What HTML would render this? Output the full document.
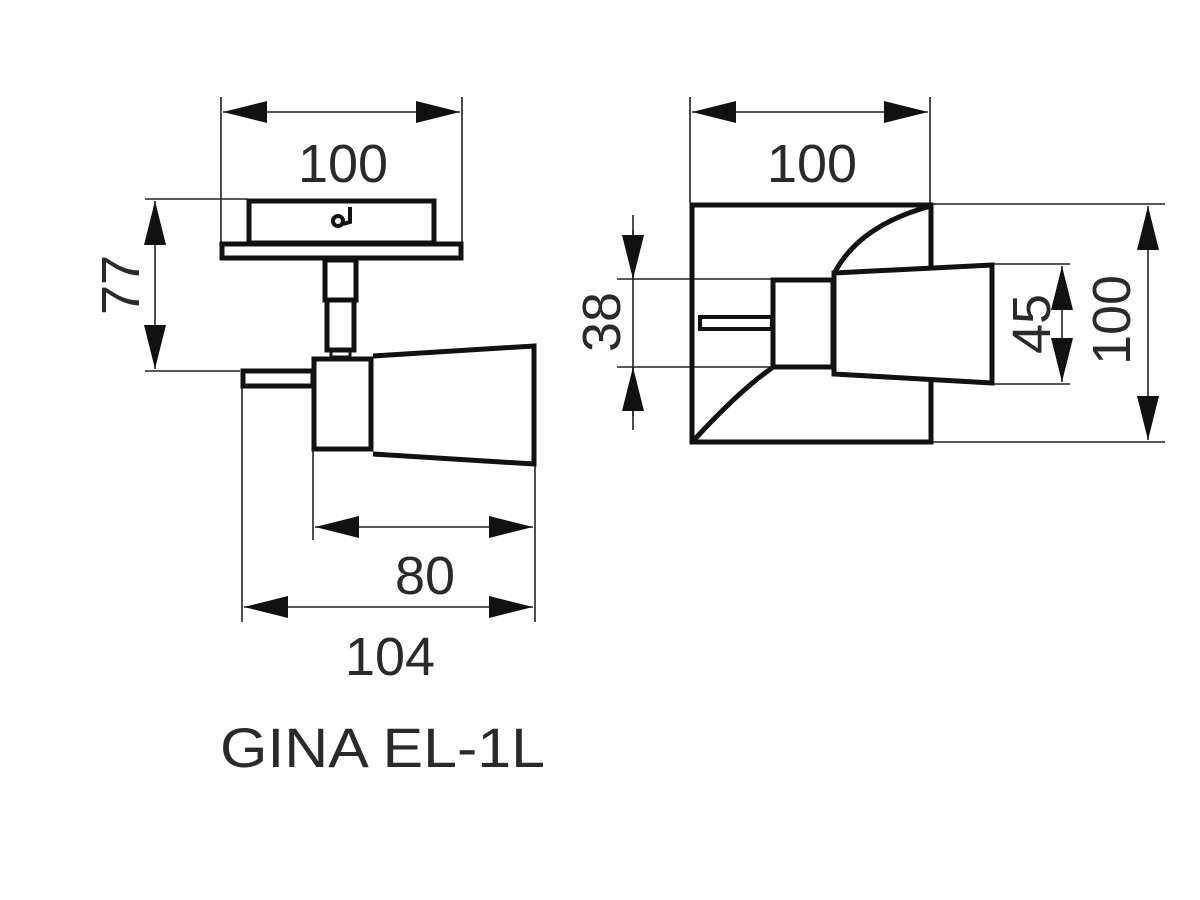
<!DOCTYPE html>
<html><head><style>
html,body{margin:0;padding:0;background:#fff;}
svg{display:block}
text{font-family:"Liberation Sans",sans-serif;fill:#2a2a2a;font-weight:normal}
</style></head><body>
<svg width="1200" height="900" viewBox="0 0 1200 900" xmlns="http://www.w3.org/2000/svg">
<defs>
<marker id="a" viewBox="0 0 44 22" refX="44" refY="11" markerWidth="44" markerHeight="22" markerUnits="userSpaceOnUse" orient="auto-start-reverse">
<path d="M0,0 L44,11 L0,22 Z" fill="#111"/>
</marker>
</defs>
<g stroke="#222" stroke-width="1.6" fill="none">
<line x1="221" y1="97" x2="221" y2="243"/>
<line x1="462" y1="97" x2="462" y2="243"/>
<line x1="223" y1="112" x2="460" y2="112" marker-start="url(#a)" marker-end="url(#a)"/>
<line x1="145" y1="199" x2="247" y2="199"/>
<line x1="145" y1="371" x2="240" y2="371"/>
<line x1="155" y1="201" x2="155" y2="369" marker-start="url(#a)" marker-end="url(#a)"/>
<line x1="242" y1="387" x2="242" y2="622"/>
<line x1="313" y1="450" x2="313" y2="540"/>
<line x1="535" y1="465" x2="535" y2="622"/>
<line x1="315" y1="527" x2="533" y2="527" marker-start="url(#a)" marker-end="url(#a)"/>
<line x1="244" y1="607" x2="533" y2="607" marker-start="url(#a)" marker-end="url(#a)"/>
<line x1="690" y1="97" x2="690" y2="203"/>
<line x1="930" y1="97" x2="930" y2="203"/>
<line x1="692" y1="112" x2="928" y2="112" marker-start="url(#a)" marker-end="url(#a)"/>
<line x1="932" y1="204" x2="1165" y2="204"/>
<line x1="932" y1="442" x2="1165" y2="442"/>
<line x1="1148" y1="206" x2="1148" y2="440" marker-start="url(#a)" marker-end="url(#a)"/>
<line x1="993" y1="264" x2="1070" y2="264"/>
<line x1="993" y1="384" x2="1070" y2="384"/>
<line x1="1062" y1="266" x2="1062" y2="382" marker-start="url(#a)" marker-end="url(#a)"/>
<line x1="617" y1="279" x2="771" y2="279"/>
<line x1="617" y1="367" x2="771" y2="367"/>
<line x1="633" y1="215" x2="633" y2="430"/>
<line x1="633" y1="230" x2="633" y2="279" marker-end="url(#a)"/>
<line x1="633" y1="416" x2="633" y2="367" marker-end="url(#a)"/>
</g>
<g stroke="#111" stroke-width="5" fill="none" stroke-linejoin="miter">
<rect x="249" y="201" width="185" height="42"/>
<rect x="222" y="244" width="239" height="14"/>
<rect x="325" y="260" width="31" height="40"/>
<rect x="327" y="300" width="27" height="50"/>
<rect x="331" y="350" width="19" height="7" stroke-width="3"/>
<rect x="314" y="359" width="57" height="90"/>
<rect x="243" y="371" width="70" height="15"/>
<path d="M373,356 L534,346 L534,464 L373,454"/>
<rect x="692" y="205" width="239" height="237"/>
<path d="M931,206 Q860,225 835,272"/>
<path d="M694,440 Q740,390 772,368"/>
<rect x="773" y="280" width="60" height="87"/>
<rect x="700" y="317" width="72" height="12" stroke-width="4"/>
<path d="M834,273 L992,265 L992,383 L834,374 Z" fill="#fff"/>
</g>
<circle cx="338" cy="221" r="5" stroke="#111" stroke-width="4" fill="none"/>
<path d="M343,224 L350,222 L350,207" stroke="#111" stroke-width="4" fill="none"/>
<g font-size="54">
<text x="343" y="182" text-anchor="middle">100</text>
<text x="812" y="182" text-anchor="middle">100</text>
<text x="425" y="594" text-anchor="middle">80</text>
<text x="390" y="675" text-anchor="middle">104</text>
<text transform="translate(139,285) rotate(-90)" text-anchor="middle">77</text>
<text transform="translate(620,322) rotate(-90)" text-anchor="middle">38</text>
<text transform="translate(1050,324) rotate(-90)" text-anchor="middle">45</text>
<text transform="translate(1130,320) rotate(-90)" text-anchor="middle">100</text>
</g>
<text x="220" y="767" font-size="56" textLength="325" lengthAdjust="spacingAndGlyphs">GINA EL-1L</text>
</svg>
</body></html>
